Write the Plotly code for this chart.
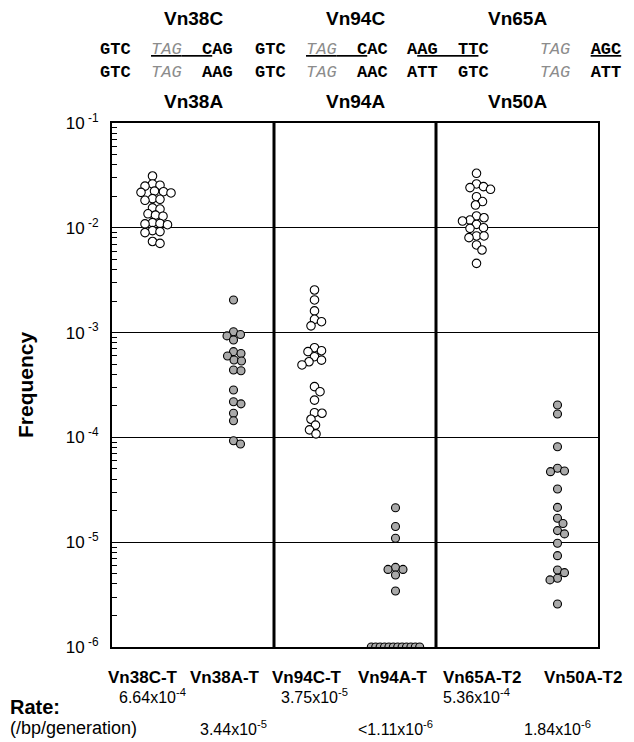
import numpy as np
import plotly.graph_objects as go

# ---------------- data ----------------
categories = ["Vn38C-T", "Vn38A-T", "Vn94C-T", "Vn94A-T", "Vn65A-T2", "Vn50A-T2"]

vn38c_t = [0.0312, 0.0262, 0.0255, 0.0250, 0.0224, 0.0221, 0.0218, 0.0215, 0.0190,
           0.0187, 0.0183, 0.0155, 0.0151, 0.0136, 0.0132, 0.0129, 0.0112, 0.0110,
           0.0109, 0.0107, 0.0094, 0.0092, 0.0090, 0.0074, 0.0071]
vn38a_t = [0.00205, 0.00102, 0.00096, 0.00093, 0.00085, 0.000658, 0.000632, 0.000598,
           0.000548, 0.000536, 0.000440, 0.000433, 0.000283, 0.000219, 0.000209,
           0.000170, 0.000144, 0.0000929, 0.0000865]
vn94c_t = [0.00255, 0.00205, 0.00161, 0.00134, 0.00127, 0.00116, 0.000718, 0.000672,
           0.000658, 0.000589, 0.000546, 0.000527, 0.000491, 0.000305, 0.000273,
           0.000227, 0.000172, 0.000170, 0.000149, 0.000131, 0.000118, 0.000108]
vn94a_t = [2.13e-5, 1.41e-5, 1.09e-5, 5.75e-6, 5.5e-6, 5.5e-6, 4.86e-6, 3.42e-6,
           1e-6, 1e-6, 1e-6, 1e-6, 1e-6, 1e-6, 1e-6, 1e-6, 1e-6, 1e-6, 1e-6, 1e-6]
vn65a_t2 = [0.0331, 0.0262, 0.0247, 0.0242, 0.0233, 0.0198, 0.0178, 0.0165, 0.01297,
            0.01247, 0.01186, 0.01161, 0.01079, 0.01002, 0.00988, 0.00836, 0.00836,
            0.00805, 0.00686, 0.00614, 0.00458]
vn50a_t2 = [0.000204, 0.000167, 8.15e-5, 5.07e-5, 4.78e-5, 4.71e-5, 3.22e-5, 2.15e-5,
            1.69e-5, 1.51e-5, 1.29e-5, 1.20e-5, 9.77e-6, 7.44e-6, 5.43e-6, 5.12e-6,
            4.53e-6, 4.37e-6, 2.57e-6]
series = [vn38c_t, vn38a_t, vn94c_t, vn94a_t, vn65a_t2, vn50a_t2]
detection_floor = 1e-6

rates = ["6.64x10<sup>-4</sup>", "3.44x10<sup>-5</sup>", "3.75x10<sup>-5</sup>",
         "&lt;1.11x10<sup>-6</sup>", "5.36x10<sup>-4</sup>", "1.84x10<sup>-6</sup>"]
headers_top = ["Vn38C", "Vn94C", "Vn65A"]
headers_bottom = ["Vn38A", "Vn94A", "Vn50A"]
y_tickvals = [1e-6, 1e-5, 1e-4, 1e-3, 1e-2, 1e-1]
y_ticktext = ["10<sup> -6</sup>", "10<sup> -5</sup>", "10<sup> -4</sup>",
              "10<sup> -3</sup>", "10<sup> -2</sup>", "10<sup> -1</sup>"]

# ---------------- geometry ----------------
W, H = 634, 742
ML, MR, MT, MB = 112, 36, 123, 95
PW, PH = W - ML - MR, H - MT - MB
PX_PER_DEC = PH / 5.0
PX_PER_CAT = PW / 6.0
DIAM = 8


def swarm(vals):
    """simple beeswarm: returns x offsets (in category units)"""
    vals = np.asarray(vals, dtype=float)
    offs = np.zeros(len(vals))
    floor_idx = [i for i, v in enumerate(vals) if v <= detection_floor]
    n = len(floor_idx)
    for k, i in enumerate(floor_idx):
        offs[i] = (k - (n - 1) / 2) * 4.4
    placed = []
    ys = np.log10(vals) * PX_PER_DEC
    order = [i for i in np.argsort(-ys) if vals[i] > detection_floor]
    for i in order:
        y = ys[i]
        chosen = 0.0
        for step in range(0, 400):
            found = False
            for sgn in ([1] if step == 0 else [1, -1]):
                o = sgn * step * 0.5
                if all((o - px) ** 2 + (y - py_) ** 2 >= (DIAM * 0.92) ** 2 for px, py_ in placed):
                    chosen = o
                    found = True
                    break
            if found:
                break
        placed.append((chosen, y))
        offs[i] = chosen
    return offs / PX_PER_CAT


fig = go.Figure()
for ci, vals in enumerate(series):
    offs = swarm(vals)
    open_mark = ci % 2 == 0
    fig.add_trace(go.Scatter(
        x=ci + offs, y=vals, mode="markers",
        marker=dict(size=DIAM + (0.5 if open_mark else 0),
                    color="white" if open_mark else "#a9a9a9",
                    line=dict(color="black", width=1.1)),
        hoverinfo="skip", showlegend=False))

minor_vals = [m * 10.0 ** k for k in range(-6, -1) for m in range(2, 10)]

fig.update_layout(
    width=W, height=H, margin=dict(l=ML, r=MR, t=MT, b=MB),
    paper_bgcolor="white", plot_bgcolor="white", showlegend=False,
    font=dict(family="Liberation Sans, Arial, sans-serif", color="black"),
    xaxis=dict(range=[-0.5, 5.5], showticklabels=False, showgrid=False, zeroline=False,
               showline=True, linecolor="black", linewidth=1.5, mirror=True, ticks=""),
    yaxis=dict(type="log", range=[-6, -1], tickvals=y_tickvals, ticktext=y_ticktext,
               tickfont=dict(size=17), showgrid=True, gridcolor="black", gridwidth=1,
               showline=True, linecolor="black", linewidth=2, mirror=True,
               ticks="outside", ticklen=8, tickcolor="white", zeroline=False,
               minor=dict(tickvals=minor_vals, ticks="inside", ticklen=5,
                          tickcolor="black", tickwidth=1, showgrid=False)),
)

for xv in (1.5, 3.5):
    fig.add_shape(type="line", xref="x", yref="paper", x0=xv, x1=xv, y0=0, y1=1,
                  line=dict(color="black", width=3), layer="above")


def py(p):
    return (H - MB - p) / PH


def pxp(p):
    return (p - ML) / PW


def note(text, x, y, size, xref="paper", xanchor="center", family=None, angle=0):
    f = dict(size=size)
    if family:
        f["family"] = family
    fig.add_annotation(text=text, xref=xref, yref="paper", x=x, y=y, xanchor=xanchor,
                       yanchor="middle", showarrow=False, font=f, textangle=angle)


# headers
for k, t in enumerate(headers_top):
    note("<b>" + t + "</b>", 0.5 + 2 * k, py(18), 19, xref="x")
for k, t in enumerate(headers_bottom):
    note("<b>" + t + "</b>", 0.5 + 2 * k, py(101), 19, xref="x")

NB = "\u00a0"
TAG = "<span style='font-style:italic;font-weight:normal;color:#8c8c8c'>TAG</span>"
seq1 = [
    "GTC" + NB * 2 + "<u>" + TAG + NB * 2 + "C</u>AG",
    "GTC" + NB * 2 + "<u>" + TAG + NB * 2 + "C</u>AC",
    "A<u>AG" + NB * 2 + "TT</u>C" + NB * 5 + TAG + NB * 2 + "<u>AGC</u>",
]
seq2 = [
    "GTC" + NB * 2 + TAG + NB * 2 + "AAG",
    "GTC" + NB * 2 + TAG + NB * 2 + "AAC",
    "ATT" + NB * 2 + "GTC" + NB * 5 + TAG + NB * 2 + "ATT",
]
seq_left = [98, 253, 405]
MONO = "Liberation Mono, Courier New, monospace"
for k in range(3):
    for s, yy in ((seq1[k], 49), (seq2[k], 73)):
        note("<b>" + s + "</b>", pxp(seq_left[k]), py(yy), 17, xanchor="left", family=MONO)

# category labels
label_centers = [143, 225, 307, 393, 482, 583]
for k, c in enumerate(categories):
    note("<b>" + c + "</b>", pxp(label_centers[k]), py(677), 17)

# rates
for k, r in enumerate(rates):
    note(r, k, py(696 if k % 2 == 0 else 728), 16, xref="x")
note("<b>Rate:</b>", pxp(8), py(707), 20, xanchor="left")
note("(/bp/generation)", pxp(8), py(728), 18, xanchor="left")

# y title
note("<b>Frequency</b>", pxp(25), py(385), 21, angle=-90)

fig.write_html("out.html", config={"displayModeBar": False},
               post_script="document.body.style.margin='0';")
